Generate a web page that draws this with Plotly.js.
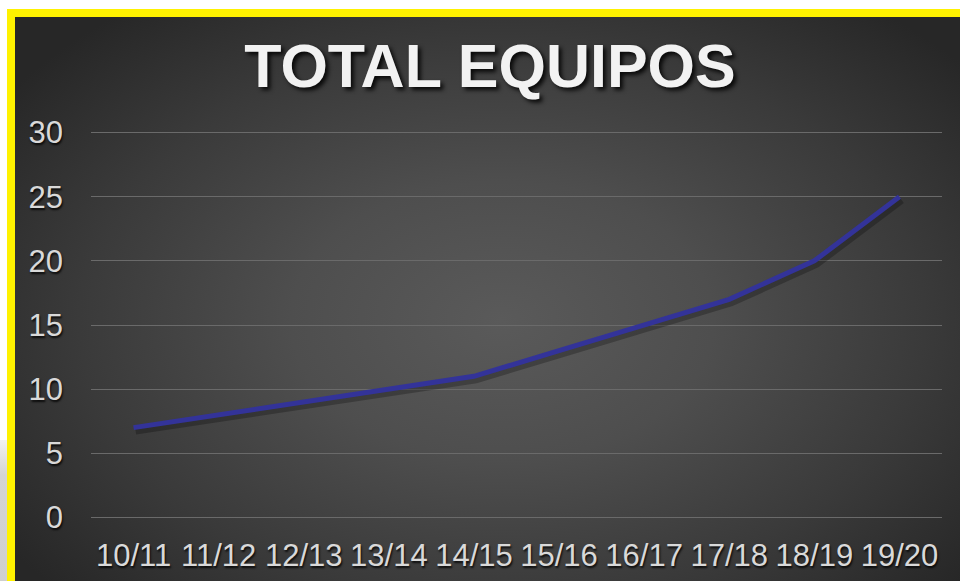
<!DOCTYPE html>
<html>
<head>
<meta charset="utf-8">
<script src="https://cdn.plot.ly/plotly-3.0.1.min.js"></script>
<style>
  html, body { margin: 0; padding: 0; width: 960px; height: 581px; overflow: hidden; background: #ffffff; }
  #leftstrip { position: absolute; left: 0; top: 440px; width: 8px; height: 141px;
    background: linear-gradient(to bottom, #f2f2f2 0%, #d4d4d4 25%, #cfcfcf 100%); }
  #frame { position: absolute; left: 7px; top: 9px; width: 990px; height: 600px;
    border: 8px solid #fff200; box-sizing: border-box;
    background: radial-gradient(ellipse 62% 68% at 50% 52%, #5a5a5a 0%, #4e4e4e 35%, #3a3a3a 70%, #272727 100%); }
  #chart { position: absolute; left: 0; top: 0; width: 960px; height: 581px; }
</style>
</head>
<body>
<div id="leftstrip"></div>
<div id="frame"></div>
<div id="chart"></div>
<script>
const seasons = ["10/11","11/12","12/13","13/14","14/15","15/16","16/17","17/18","18/19","19/20"];
const totalEquipos = [7, 8, 9, 10, 11, 13, 15, 17, 20, 25];
const yTicks = [0, 5, 10, 15, 20, 25, 30];
const chartTitle = "TOTAL EQUIPOS";

const W = 960, H = 581;
const pL = 91, pR = 942, pT = 133, pB = 517;   // where 0 and 30 fall
const yMin = 0, yMax = 30, ext = 0.2;
const ppu = (pB - pT) / (yMax - yMin);
const mT = pT - ext * ppu, mB = (H - pB) - ext * ppu;
const ppx = (pR - pL) / seasons.length;
const sx = 2 / ppx, sy = 3 / ppu;   // shadow offset in data units

// shadow on base axes (shifted range), main line on overlay axes (drawn on top)
const shadowTrace = {
  x: seasons, y: totalEquipos, type: "scatter", mode: "lines",
  xaxis: "x", yaxis: "y",
  line: { color: "rgba(0,0,0,0.25)", width: 8 },
  hoverinfo: "skip", showlegend: false
};
const mainTrace = {
  x: seasons, y: totalEquipos, type: "scatter", mode: "lines",
  xaxis: "x2", yaxis: "y2",
  line: { color: "#333399", width: 5 },
  showlegend: false
};

const tickFont = { family: "Liberation Sans, Arial, sans-serif", size: 31, color: "#d9d9d9",
  shadow: "1px 2px 2px rgba(0,0,0,0.8)" };

const layout = {
  width: W, height: H,
  paper_bgcolor: "rgba(0,0,0,0)",
  plot_bgcolor: "rgba(0,0,0,0)",
  margin: { l: pL, r: W - pR, t: mT, b: mB, pad: 0 },
  title: {
    text: chartTitle,
    font: { family: "Liberation Sans, Arial, sans-serif", size: 61, color: "#f2f2f2", weight: "bold",
      shadow: "3px 3px 4px rgba(0,0,0,0.85)" },
    x: 490 / W, xanchor: "center",
    y: 1 - 66 / H, yanchor: "middle", yref: "container"
  },
  xaxis: {
    type: "category", range: [-0.5 - sx, seasons.length - 0.5 - sx],
    visible: false, fixedrange: true
  },
  yaxis: {
    range: [yMin - ext + sy, yMax + ext + sy],
    visible: false, fixedrange: true
  },
  xaxis2: {
    type: "category", range: [-0.5, seasons.length - 0.5], overlaying: "x", anchor: "y2",
    showgrid: false, zeroline: false, showline: false,
    ticks: "", tickfont: tickFont, ticklabelstandoff: 14,
    fixedrange: true
  },
  yaxis2: {
    range: [yMin - ext, yMax + ext], overlaying: "y", anchor: "x2", side: "left",
    tickvals: yTicks, ticktext: yTicks.map(String),
    showgrid: true, gridcolor: "#6a6a6a", gridwidth: 1,
    zeroline: false, showline: false,
    ticks: "", tickfont: tickFont, ticklabelstandoff: 27,
    fixedrange: true
  },
  showlegend: false
};

Plotly.newPlot("chart", [shadowTrace, mainTrace], layout, { displayModeBar: false, staticPlot: true });
</script>
</body>
</html>
